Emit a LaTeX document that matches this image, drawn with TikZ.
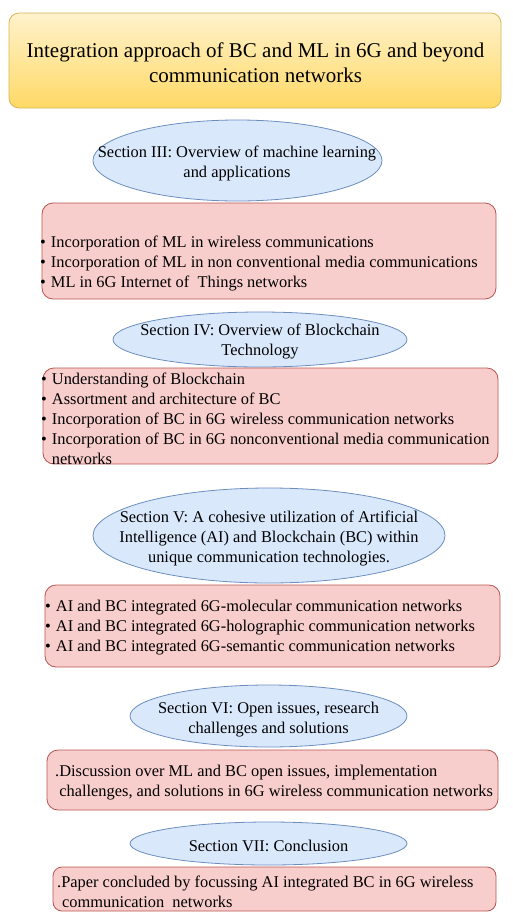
\documentclass[tikz,border=0pt]{standalone}
\usepackage{fontspec}
\setmainfont{Liberation Serif}
\usetikzlibrary{shapes.geometric}
\definecolor{titletop}{HTML}{FFF2CC}
\definecolor{titlefill}{HTML}{FFD966}
\definecolor{titleline}{HTML}{D6B656}
\definecolor{secfill}{HTML}{DAE8FC}
\definecolor{secline}{HTML}{6C8EBF}
\definecolor{itemfill}{HTML}{F8CECC}
\definecolor{itemline}{HTML}{B85450}
\newcommand\bulitem{\textbullet\hspace{5pt}}
\newcommand\bulgap{\phantom{\textbullet}\hspace{5pt}}

\begin{document}
\begin{tikzpicture}[x=1pt, y=-1pt,
  every node/.style={font=\fontsize{16.4}{20}\selectfont},
  headbox/.style={draw=titleline, line width=0.8pt, rounded corners=10pt,
    top color=titletop, bottom color=titlefill, inner sep=0pt},
  secell/.style={ellipse, draw=secline, fill=secfill, line width=0.8pt, inner sep=0pt},
  itembox/.style={draw=itemline, fill=itemfill, line width=0.8pt, rounded corners=11pt, inner sep=0pt},
  sectext/.style={inner sep=0pt, align=center},
  listtext/.style={inner sep=0pt, anchor=west, align=left}]
  \useasboundingbox (0,0) rectangle (512,921);

  % title
  \node[headbox, minimum width=492, minimum height=95] (head) at (255,60.5) {};
  \node[sectext, font=\fontsize{21}{25}\selectfont] (headtxt) at (255.5,63)
    {Integration approach of BC and ML in 6G and beyond\\communication networks};

  % Section III
  \node[secell, minimum width=289, minimum height=81] (secIII) at (237.5,160.5) {};
  \node[sectext] (secIIItxt) at (237,163.5) {Section III: Overview of machine learning\\and applications};
  \node[itembox, minimum width=454, minimum height=96] (boxIII) at (269,251) {};
  \node[listtext] (boxIIItxt) at (40,263.5) {\bulitem Incorporation of ML in wireless communications\\
    \bulitem Incorporation of ML in non conventional media communications\\
    \bulitem ML in 6G Internet of~ Things networks};

  % Section IV
  \node[secell, minimum width=294, minimum height=55] (secIV) at (260,339.5) {};
  \node[sectext] (secIVtxt) at (260,341.5) {Section IV: Overview of Blockchain\\Technology};
  \node[itembox, minimum width=455, minimum height=96] (boxIV) at (270.5,416) {};
  \node[listtext] (boxIVtxt) at (41,418.5) {\bulitem Understanding of Blockchain\\
    \bulitem Assortment and architecture of BC\\
    \bulitem Incorporation of BC in 6G wireless communication networks\\
    \bulitem Incorporation of BC in 6G nonconventional media communication\\
    \bulgap networks};

  % Section V
  \node[secell, minimum width=352, minimum height=95] (secV) at (269,535.5) {};
  \node[sectext] (secVtxt) at (269,538.5) {Section V: A cohesive utilization of Artificial\\
    Intelligence (AI) and Blockchain (BC) within\\unique communication technologies.};
  \node[itembox, minimum width=455, minimum height=82] (boxV) at (272.5,626) {};
  \node[listtext] (boxVtxt) at (45,628) {\bulitem AI and BC integrated 6G-molecular communication networks\\
    \bulitem AI and BC integrated 6G-holographic communication networks\\
    \bulitem AI and BC integrated 6G-semantic communication networks};

  % Section VI
  \node[secell, minimum width=277, minimum height=62] (secVI) at (268.5,716) {};
  \node[sectext] (secVItxt) at (268.5,719.5) {Section VI: Open issues, research\\challenges and solutions};
  \node[itembox, minimum width=451, minimum height=60] (boxVI) at (272.5,780) {};
  \node[listtext] (boxVItxt) at (55,782.5) {.Discussion over ML and BC open issues, implementation\\
    \phantom{.}challenges, and solutions in 6G wireless communication networks};

  % Section VII
  \node[secell, minimum width=277, minimum height=43] (secVII) at (268.5,843.5) {};
  \node[sectext] (secVIItxt) at (268.5,846) {Section VII: Conclusion};
  \node[itembox, rounded corners=9pt, minimum width=443, minimum height=44] (boxVII) at (274.5,889) {};
  \node[listtext] (boxVIItxt) at (57,892) {.Paper concluded by focussing AI integrated BC in 6G wireless\\
    \hspace{5pt}communication~ networks};
\end{tikzpicture}
\end{document}
